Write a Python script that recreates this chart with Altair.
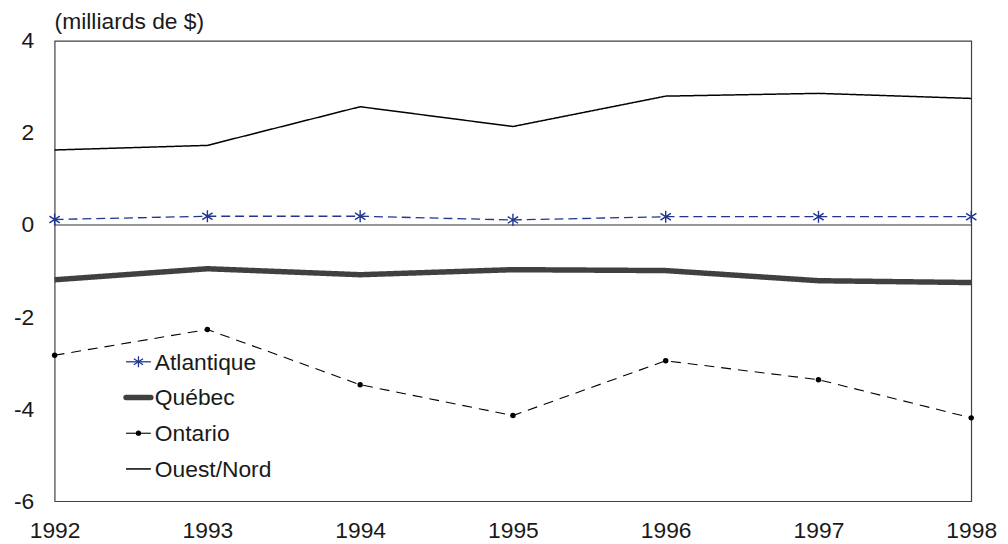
import altair as alt
import pandas as pd

years = [1992, 1993, 1994, 1995, 1996, 1997, 1998]
atlantique = [0.12, 0.19, 0.19, 0.11, 0.18, 0.18, 0.18]
quebec = [-1.19, -0.95, -1.08, -0.97, -0.99, -1.21, -1.25]
ontario = [-2.83, -2.27, -3.47, -4.14, -2.95, -3.36, -4.19]
ouest_nord = [1.63, 1.73, 2.57, 2.14, 2.80, 2.86, 2.75]
series_names = ["Atlantique", "Québec", "Ontario", "Ouest/Nord"]
y_ticks = [-6, -4, -2, 0, 2, 4]
unit_label = "(milliards de $)"

FONT = "Liberation Sans"
FS = 23
STAR = "M0,-1L0,1M-0.85,-0.55L0.85,0.55M-0.85,0.55L0.85,-0.55"

values = {"Atlantique": atlantique, "Québec": quebec, "Ontario": ontario, "Ouest/Nord": ouest_nord}
rows = []
for name in series_names:
    for yr, v in zip(years, values[name]):
        rows.append({"year": yr, "value": v, "series": name})
df = pd.DataFrame(rows)

styles = {
    "Atlantique": dict(color="#1f3590", strokeWidth=1.3, strokeDash=[9, 5]),
    "Québec": dict(color="#404040", strokeWidth=5.5, strokeDash=[1, 0]),
    "Ontario": dict(color="#000000", strokeWidth=1.1, strokeDash=[10, 7]),
    "Ouest/Nord": dict(color="#000000", strokeWidth=1.5, strokeDash=[1, 0]),
}

x_scale = alt.Scale(domain=[1992, 1998], nice=False, zero=False)
y_scale = alt.Scale(domain=[-6, 4], nice=False, zero=False)
x_enc = alt.X("year:Q", scale=x_scale,
              axis=alt.Axis(values=years, format="d", title=None, grid=False, ticks=False, tickSize=0,
                            domain=False, labelFont=FONT, labelFontSize=FS, labelColor="#1a1a1a",
                            labelPadding=19, labelFlush=False))
y_enc = alt.Y("value:Q", scale=y_scale,
              axis=alt.Axis(values=y_ticks, title=None, grid=False, ticks=False, tickSize=0,
                            domain=False, labelFont=FONT, labelFontSize=FS, labelColor="#1a1a1a",
                            labelPadding=21, labelFlush=False, labelExpr="datum.value + ''"))

base = alt.Chart(df)
layers = []

for name in series_names:
    st = styles[name]
    sub = base.transform_filter(alt.datum.series == name)
    layers.append(sub.mark_line(color=st["color"], strokeWidth=st["strokeWidth"],
                                strokeDash=st["strokeDash"]).encode(x=x_enc, y=y_enc))

zero = alt.Chart(pd.DataFrame({"z": [0]})).mark_rule(color="#333333", strokeWidth=1.2).encode(
    y=alt.Y("z:Q", scale=y_scale))
layers.insert(0, zero)

layers.append(base.transform_filter(alt.datum.series == "Atlantique").mark_point(
    shape=STAR, size=150, filled=False, color="#1f3590", strokeWidth=1.4, opacity=1).encode(x=x_enc, y=y_enc))
layers.append(base.transform_filter(alt.datum.series == "Ontario").mark_point(
    shape="circle", size=30, filled=True, color="#000000", opacity=1).encode(x=x_enc, y=y_enc))

# custom legend
leg_y0 = 323.5
leg_dy = 36
for i, name in enumerate(series_names):
    st = styles[name]
    yy = leg_y0 + i * leg_dy
    ld = alt.Chart(pd.DataFrame({"series": [name]}))
    layers.append(ld.mark_rule(color=st["color"], strokeWidth=st["strokeWidth"],
                               strokeCap="round" if name == "Québec" else "butt").encode(
        x=alt.value(72), x2=alt.value(97), y=alt.value(yy)))
    if name == "Atlantique":
        layers.append(ld.mark_point(shape=STAR, size=120, filled=False, color=st["color"],
                                    strokeWidth=1.3, opacity=1).encode(x=alt.value(84.5), y=alt.value(yy)))
    if name == "Ontario":
        layers.append(ld.mark_point(shape="circle", size=28, filled=True, color="#000000",
                                    opacity=1).encode(x=alt.value(84.5), y=alt.value(yy)))
    layers.append(ld.mark_text(align="left", baseline="middle", font=FONT, fontSize=FS,
                               color="#1a1a1a").encode(
        text="series:N", x=alt.value(101), y=alt.value(yy + 1)))

layers.append(alt.Chart(pd.DataFrame({"t": [unit_label]})).mark_text(
    align="left", baseline="middle", font=FONT, fontSize=FS, color="#1a1a1a").encode(
    text="t:N", x=alt.value(0), y=alt.value(-19)))

chart = alt.layer(*layers).properties(
    width=924, height=464,
    autosize=alt.AutoSizeParams(type="none"),
    padding={"left": 47, "top": 31, "right": 29, "bottom": 41},
    background="white",
).configure_view(stroke="#404040", strokeWidth=1.2)

chart.save("out.html", embed_options={"renderer": "svg", "actions": False})
